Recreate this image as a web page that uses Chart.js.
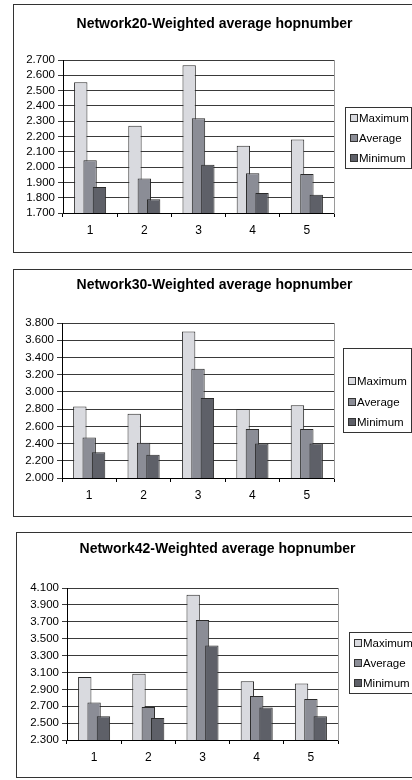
<!DOCTYPE html>
<html>
<head>
<meta charset="utf-8">
<script src="https://cdn.jsdelivr.net/npm/chart.js@4/dist/chart.umd.min.js"></script>
<style>
  html, body { margin: 0; padding: 0; background: #fff; overflow: hidden; width: 412px; height: 780px; }
  .box { position: absolute; border: 1px solid #333; box-sizing: border-box; background: #fff; }
  .box canvas { position: absolute; left: -1px; top: -1px; }
</style>
</head>
<body>
<div class="box" id="b1" style="left:13px;top:4px;width:403px;height:249px"><canvas id="c1" width="403" height="249"></canvas></div>
<div class="box" id="b2" style="left:13px;top:269px;width:403px;height:248px"><canvas id="c2" width="403" height="248"></canvas></div>
<div class="box" id="b3" style="left:16px;top:532px;width:403px;height:246px"><canvas id="c3" width="403" height="246"></canvas></div>
<script>
//categories and series
const categories = ["1", "2", "3", "4", "5"];
const seriesNames = ["Maximum", "Average", "Minimum"];
//Network20 values
const net20Max = [2.555, 2.270, 2.665, 2.140, 2.180];
const net20Avg = [2.045, 1.925, 2.320, 1.960, 1.955];
const net20Min = [1.870, 1.790, 2.015, 1.830, 1.820];
//Network30 values
const net30Max = [2.830, 2.745, 3.700, 2.800, 2.845];
const net30Avg = [2.470, 2.410, 3.270, 2.570, 2.570];
const net30Min = [2.300, 2.270, 2.930, 2.400, 2.400];
//Network42 values
const net42Max = [3.045, 3.085, 4.020, 2.995, 2.970];
const net42Avg = [2.745, 2.690, 3.720, 2.820, 2.785];
const net42Min = [2.580, 2.560, 3.420, 2.685, 2.580];
//y axis ticks: min, max, step
const net20Ticks = [1.7, 2.7, 0.1];
const net30Ticks = [2.0, 3.8, 0.2];
const net42Ticks = [2.3, 4.1, 0.2];

const barColors = ["#d9dadf", "#8b8d96", "#5e6068"];
const fontFamily = "'Liberation Sans', Arial, sans-serif";

//draw datasets first to last so later bars sit on top (Excel overlap)
const forwardDraw = {
  id: "forwardDraw",
  beforeDatasetsDraw(chart) {
    const a = chart.chartArea;
    const ctx = chart.ctx;
    ctx.save();
    ctx.beginPath();
    ctx.rect(a.left, a.top, a.right - a.left, a.bottom - a.top);
    ctx.clip();
    chart.getSortedVisibleDatasetMetas().forEach((m) => m.controller.draw());
    ctx.restore();
    return false;
  },
};

//legend with a frame, placed next to the plot
const boxLegend = {
  id: "boxLegend",
  afterDraw(chart, args, opts) {
    const ctx = chart.ctx;
    const a = chart.chartArea;
    const x = a.right + opts.dx;
    const y = a.top + opts.dy;
    ctx.save();
    ctx.fillStyle = "#fff";
    ctx.strokeStyle = "#333";
    ctx.lineWidth = 1;
    ctx.fillRect(x, y, opts.w, opts.h);
    ctx.strokeRect(x + 0.5, y + 0.5, opts.w, opts.h);
    ctx.font = "11.5px " + fontFamily;
    ctx.textBaseline = "middle";
    chart.data.datasets.forEach((ds, i) => {
      const cy = Math.round(y + opts.first + i * opts.step);
      ctx.fillStyle = ds.backgroundColor;
      ctx.fillRect(x + 5, cy - 3.5, 7, 7);
      ctx.strokeStyle = "#333";
      ctx.strokeRect(x + 5.5, cy - 3.5, 7, 7);
      ctx.fillStyle = "#000";
      ctx.fillText(ds.label, x + 14, cy + 0.5);
    });
    ctx.restore();
  },
};

function makeChart(id, title, series, ticks, lay) {
  return new Chart(document.getElementById(id), {
    type: "bar",
    plugins: [forwardDraw, boxLegend],
    data: {
      labels: categories,
      datasets: series.map((vals, i) => ({
        label: seriesNames[i],
        data: vals,
        backgroundColor: barColors[i],
        borderColor: "#2a2a2a",
        borderWidth: 1,
        categoryPercentage: 0.517,
        barPercentage: 1.43,
      })),
    },
    options: {
      responsive: false,
      animation: false,
      devicePixelRatio: 1,
      layout: { padding: { left: 0, right: 0, top: 0, bottom: 0 } },
      plugins: {
        legend: { display: false },
        tooltip: { enabled: false },
        title: {
          display: true,
          text: title,
          color: "#000",
          font: { family: fontFamily, size: 14, weight: "bold" },
          padding: { top: lay.titleTop, bottom: lay.titleBottom },
        },
        boxLegend: lay.legend,
      },
      scales: {
        x: {
          ticks: { color: "#000", font: { family: fontFamily, size: 12 }, padding: 6 },
          grid: { offset: true, drawOnChartArea: false, drawTicks: true, tickLength: 4, color: "#000" },
          border: { color: "#000" },
          afterFit: (s) => { s.height = lay.xHeight; },
        },
        y: {
          min: ticks[0],
          max: ticks[1],
          ticks: {
            stepSize: ticks[2],
            autoSkip: false,
            color: "#000",
            padding: 3,
            font: { family: fontFamily, size: 11.5 },
            callback: (v) => Number(v).toFixed(3),
          },
          grid: { color: "#3a3a3a", tickLength: 5 },
          border: { color: "#000" },
          afterFit: (s) => { s.width = lay.yWidth; },
        },
        y2: {
          position: "right",
          min: 0,
          max: 1,
          ticks: { display: false },
          grid: { drawOnChartArea: false, drawTicks: false },
          border: { color: "#9a9a9a" },
          afterFit: (s) => { s.width = lay.rightWidth; },
        },
      },
    },
  });
}

makeChart("c1", "Network20-Weighted average hopnumber", [net20Max, net20Avg, net20Min], net20Ticks, {
  titleTop: 11.6, titleBottom: 27.6, xHeight: 40, yWidth: 50, rightWidth: 82,
  legend: { dx: 11, dy: 47, w: 66, h: 61, first: 11, step: 20 },
});
makeChart("c2", "Network30-Weighted average hopnumber", [net30Max, net30Avg, net30Min], net30Ticks, {
  titleTop: 7.6, titleBottom: 29.6, xHeight: 39, yWidth: 49, rightWidth: 82,
  legend: { dx: 9, dy: 25, w: 68, h: 84, first: 33, step: 20.5 },
});
makeChart("c3", "Network42-Weighted average hopnumber", [net42Max, net42Avg, net42Min], net42Ticks, {
  titleTop: 8.6, titleBottom: 30.6, xHeight: 38, yWidth: 51, rightWidth: 81,
  legend: { dx: 11, dy: 44, w: 66, h: 61, first: 11, step: 20 },
});
</script>
</body>
</html>
